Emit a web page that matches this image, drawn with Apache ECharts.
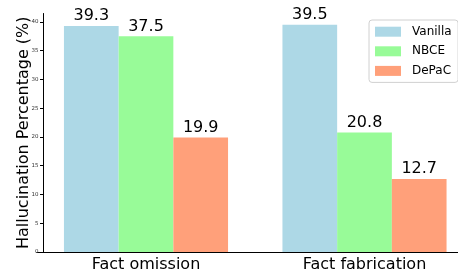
<!DOCTYPE html>
<html>
<head>
<meta charset="utf-8">
<script src="https://cdn.jsdelivr.net/npm/echarts@6/dist/echarts.min.js"></script>
<style>
html,body{margin:0;padding:0;background:#fff;}
#c{width:458px;height:273px;}
</style>
</head>
<body>
<div id="c"></div>
<script>
const categories = ['Fact omission', 'Fact fabrication'];
const seriesNames = ['Vanilla', 'NBCE', 'DePaC'];
const vanilla = [39.3, 39.5];
const nbce = [37.5, 20.8];
const depac = [19.9, 12.7];
const yTicks = [0, 5, 10, 15, 20, 25, 30, 35, 40];

const colors = ['#ADD8E6', '#98FB98', '#FFA07A'];
const values = [vanilla, nbce, depac];
const FONT = 'DejaVu Sans';

const chart = echarts.init(document.getElementById('c'), null, {renderer: 'canvas'});
chart.setOption({
  animation: false,
  textStyle: {fontFamily: FONT},
  grid: {left: 36.75, top: 13.5, width: 437, height: 238.5, containLabel: false, outerBoundsMode: 'none'},
  legend: {
    data: seriesNames,
    orient: 'vertical',
    left: 369, top: 20,
    padding: [5.7, 6.5, 5.5, 6],
    itemWidth: 26, itemHeight: 10, itemGap: 7.6,
    borderColor: '#d0d0d0', borderWidth: 1, borderRadius: 3,
    backgroundColor: 'rgba(255,255,255,0.8)',
    icon: 'rect',
    textStyle: {fontFamily: FONT, fontSize: 12, color: '#000', lineHeight: 10, padding: [0, 0, 0, 6]}
  },
  xAxis: {
    type: 'category',
    data: categories,
    boundaryGap: true,
    axisLine: {lineStyle: {color: '#000', width: 1}},
    axisTick: {alignWithLabel: true, length: 3.5, lineStyle: {color: '#000'}},
    axisLabel: {fontFamily: FONT, fontSize: 16, color: '#000', margin: 5}
  },
  yAxis: {
    type: 'value',
    min: 0, max: 41.475, interval: 5,
    offset: -6.75,
    name: 'Hallucination Percentage (%)',
    nameLocation: 'middle',
    nameGap: 12,
    nameMoveOverlap: false,
    nameTextStyle: {fontFamily: FONT, fontSize: 16, color: '#000'},
    axisLine: {show: true, lineStyle: {color: '#000', width: 1}},
    axisTick: {show: true, length: 3.5, lineStyle: {color: '#000'}},
    axisLabel: {fontFamily: FONT, fontSize: 5.5, color: '#333', margin: 5, showMaxLabel: false,
      formatter: v => (yTicks.indexOf(v) >= 0 ? String(v) : '')},
    splitLine: {show: false}
  },
  series: seriesNames.map((n, i) => ({
    name: n,
    type: 'bar',
    data: values[i],
    barWidth: 54.7,
    barGap: '0%',
    itemStyle: {color: colors[i]},
    label: {show: true, position: 'top', distance: 2, fontFamily: FONT, fontSize: 16, color: '#000',
      formatter: p => p.value.toFixed(1)}
  }))
});
</script>
</body>
</html>
